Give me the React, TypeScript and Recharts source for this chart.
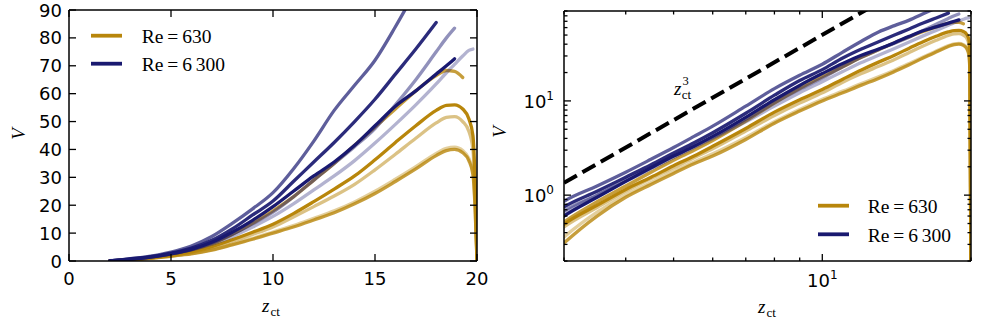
import React from "react";
import { LineChart, Line, XAxis, YAxis, Legend } from "recharts";

// z_ct sample positions shared by every curve
const zValues = [2, 2.5, 3, 3.5, 4, 4.5, 5, 5.5, 6, 7, 8, 9, 10, 11, 12, 13, 14, 15, 16, 17, 18, 18.5, 18.9, 19.3, 19.6, 19.8, 19.9, 20];

// Re = 630 (gold)
const re630a = [0.06, 0.25, 0.52, 0.85, 1.25, 1.75, 2.35, 3.0, 3.8, 6.1, 9.5, 13.5, 18, 23, 29, 35, 41.5, 48, 54.5, 61, 66.5, 68.3, 68, 65.8, null, null, null, null];
const re630b = [0.05, 0.2, 0.49, 0.78, 1.15, 1.55, 2.05, 2.6, 3.3, 5.1, 7.6, 10.3, 13.2, 17, 21.3, 25.8, 30.5, 36.3, 42.5, 48.5, 54, 55.8, 56, 54.5, 51, 45, 30, 0.1];
const re630c = [0.05, 0.2, 0.46, 0.74, 1.1, 1.5, 1.95, 2.5, 3.1, 4.8, 7.0, 9.5, 12.2, 15.8, 19.5, 23.3, 27.5, 32.7, 38.3, 44, 49.5, 51.5, 51.8, 50, 46.5, 40, 25, 0.1];
const re630d = [0.03, 0.12, 0.31, 0.6, 0.95, 1.3, 1.7, 2.15, 2.6, 3.9, 5.8, 7.8, 10, 12.2, 14.7, 17.3, 20.5, 24.2, 28.5, 33, 37.8, 39.6, 40, 38.8, 36, 31, 20, 0.1];
const re630e = [0.04, 0.15, 0.36, 0.66, 1.0, 1.36, 1.78, 2.25, 2.75, 4.1, 6.0, 8.1, 10.4, 12.7, 15.3, 18, 21.2, 25, 29.3, 33.8, 38.6, 40.4, 40.8, 39.6, 36.8, 32, 21, 0.1];

// Re = 6300 (navy)
const re6300a = [0.1, 0.4, 0.86, 1.25, 1.75, 2.4, 3.2, 4.2, 5.4, 8.8, 13.5, 18.7, 24.5, 33, 43, 54, 63, 72, 84, 97, null, null, null, null, null, null, null, null];
const re6300b = [0.08, 0.35, 0.75, 1.1, 1.55, 2.1, 2.8, 3.6, 4.6, 7.4, 11.5, 16.5, 21.5, 28.5, 35.5, 42.5, 50, 58, 67, 76, 85.5, null, null, null, null, null, null, null];
const re6300c = [0.07, 0.3, 0.68, 1.0, 1.45, 1.95, 2.6, 3.3, 4.1, 6.4, 9.6, 13.3, 17.5, 23, 29, 35, 41, 47.5, 56, 65, 75, 80, 83.5, null, null, null, null, null];
const re6300d = [0.07, 0.28, 0.6, 0.95, 1.4, 1.95, 2.6, 3.3, 4.2, 6.7, 10.3, 14.6, 19.5, 25, 30.5, 35.5, 41.5, 48.5, 55.5, 61, 67, 70, 72.5, null, null, null, null, null];
const re6300e = [0.07, 0.3, 0.65, 1.0, 1.4, 1.9, 2.5, 3.2, 4.0, 6.0, 8.8, 12.2, 16, 20.5, 25.5, 30.5, 36, 42.3, 49, 56, 63.5, 67.5, 70.5, 73.5, 75.5, 76, null, null];

// z_ct^3 guide line (two ends)
const guideZ = [3, 12.5];
const guideV = [1.35, 98];

const linXTicks = [0, 5, 10, 15, 20];
const linYTicks = [0, 10, 20, 30, 40, 50, 60, 70, 80, 90];
const logXMajor = [10];
const logXTicks = [3, 4, 5, 6, 7, 8, 9, 10, 20];
const logYMajor = [1, 10];
const logYTicks = [0.2, 0.3, 0.4, 0.5, 0.6, 0.7, 0.8, 0.9, 1, 2, 3, 4, 5, 6, 7, 8, 9, 10, 20, 30, 40, 50, 60, 70, 80, 90];

const legendLabels = ["Re\u2009=\u2009630", "Re\u2009=\u20096\u2009300"];

const GOLD = "#b8860b";
const NAVY = "#191970";
const legendColors = [GOLD, NAVY];

const series = [
  { key: "g1", values: re630a, color: GOLD, opacity: 0.8 },
  { key: "g2", values: re630b, color: GOLD, opacity: 1 },
  { key: "g3", values: re630c, color: GOLD, opacity: 0.5 },
  { key: "g4", values: re630d, color: GOLD, opacity: 0.8 },
  { key: "g5", values: re630e, color: GOLD, opacity: 0.4 },
  { key: "n1", values: re6300a, color: NAVY, opacity: 0.7 },
  { key: "n2", values: re6300b, color: NAVY, opacity: 0.92 },
  { key: "n3", values: re6300c, color: NAVY, opacity: 0.48 },
  { key: "n5", values: re6300e, color: NAVY, opacity: 0.33 },
  { key: "n4", values: re6300d, color: NAVY, opacity: 1 },
];

const rows = zValues.map((z, i) => {
  const row: Record<string, number | null> = { z };
  series.forEach((s) => (row[s.key] = s.values[i]));
  return row;
});
const guideRows = guideZ.map((z, i) => ({ z, guide: guideV[i] }));

const tickFont = { fontFamily: "'DejaVu Sans', sans-serif", fontSize: 18, fill: "#000" };
const serif = "'Liberation Serif', serif";
const frame = { stroke: "#000", strokeWidth: 1.5 };

type Side = "bottom" | "top" | "left" | "right";

// ticks point into the plot (matplotlib classic); labels only on major ticks
function makeTick(side: Side, majors: number[] | null, label?: (v: number) => React.ReactNode, dx = 0, dy = 0) {
  return function TickMark(props: any) {
    const { x, y, payload } = props;
    const v = payload.value as number;
    const major = !majors || majors.includes(v);
    const len = major ? 7 : 3.5;
    let x2 = x;
    let y2 = y;
    if (side === "bottom") y2 = y - len;
    if (side === "top") y2 = y + len;
    if (side === "left") x2 = x + len;
    if (side === "right") x2 = x - len;
    return (
      <g>
        <line x1={x} y1={y} x2={x2} y2={y2} stroke="#000" strokeWidth={1.3} />
        {label && major ? (
          <text x={x + dx} y={y + dy} textAnchor={side === "bottom" ? "middle" : "end"} {...tickFont}>
            {label(v)}
          </text>
        ) : null}
      </g>
    );
  };
}

const powLabel = (v: number) => (
  <>
    <tspan>10</tspan>
    <tspan dy={-8} fontSize={12}>
      {Math.round(Math.log10(v))}
    </tspan>
  </>
);

function LegendBox({ textX, rowGap }: { textX: number; rowGap: number }) {
  return (
    <svg width={180} height={64}>
      {legendLabels.map((lab, i) => (
        <g key={lab}>
          <line x1={6} x2={37} y1={17.7 + i * rowGap} y2={17.7 + i * rowGap} stroke={legendColors[i]} strokeWidth={3.8} />
          <text x={textX} y={25.3 + i * rowGap} fontFamily={serif} fontSize={19.5} fill="#000">
            {lab}
          </text>
        </g>
      ))}
    </svg>
  );
}

function renderLines() {
  return series.map((s) => (
    <Line
      key={s.key}
      xAxisId="b"
      yAxisId="l"
      dataKey={s.key}
      type="monotone"
      stroke={s.color}
      strokeOpacity={s.opacity}
      strokeWidth={3.3}
      dot={false}
      activeDot={false}
      connectNulls={false}
      isAnimationActive={false}
      strokeLinecap="round"
    />
  ));
}

function LinearPanel() {
  return (
    <LineChart width={490} height={325} data={rows} margin={{ top: 9, right: 12, bottom: 0, left: 0 }}>
      <XAxis xAxisId="b" dataKey="z" type="number" domain={[0, 20]} allowDataOverflow ticks={linXTicks} interval={0}
        height={64} tickSize={0} tickMargin={0} tickLine={false} axisLine={frame} tick={makeTick("bottom", null, String, 0, 24)} />
      <XAxis xAxisId="t" orientation="top" dataKey="z" type="number" domain={[0, 20]} allowDataOverflow ticks={linXTicks} interval={0}
        height={1} tickSize={0} tickMargin={0} tickLine={false} axisLine={frame} tick={makeTick("top", null)} />
      <YAxis yAxisId="l" type="number" domain={[0, 90]} allowDataOverflow ticks={linYTicks} interval={0}
        width={69} tickSize={0} tickMargin={0} tickLine={false} axisLine={frame} tick={makeTick("left", null, String, -7, 6.5)} />
      <YAxis yAxisId="r" orientation="right" type="number" domain={[0, 90]} allowDataOverflow ticks={linYTicks} interval={0}
        width={1} tickSize={0} tickMargin={0} tickLine={false} axisLine={frame} tick={makeTick("right", null)} />
      {renderLines()}
      <Legend layout="horizontal" verticalAlign="middle" align="center"
        wrapperStyle={{ left: 85, top: 18, width: 180, height: 64 }}
        content={() => <LegendBox textX={56.7} rowGap={28} />} />
    </LineChart>
  );
}

function LogPanel() {
  return (
    <LineChart width={493} height={325} data={rows} margin={{ top: 10, right: 11, bottom: 0, left: 0 }}>
      <XAxis xAxisId="b" dataKey="z" type="number" scale="log" domain={[3, 20]} allowDataOverflow ticks={logXTicks} interval={0}
        height={64} tickSize={0} tickMargin={0} tickLine={false} axisLine={frame} tick={makeTick("bottom", logXMajor, powLabel, 0, 26)} />
      <XAxis xAxisId="t" orientation="top" dataKey="z" type="number" scale="log" domain={[3, 20]} allowDataOverflow ticks={logXTicks} interval={0}
        height={1} tickSize={0} tickMargin={0} tickLine={false} axisLine={frame} tick={makeTick("top", logXMajor)} />
      <YAxis yAxisId="l" type="number" scale="log" domain={[0.2, 90]} allowDataOverflow ticks={logYTicks} interval={0}
        width={74} tickSize={0} tickMargin={0} tickLine={false} axisLine={frame} tick={makeTick("left", logYMajor, powLabel, -10, 7.3)} />
      <YAxis yAxisId="r" orientation="right" type="number" scale="log" domain={[0.2, 90]} allowDataOverflow ticks={logYTicks} interval={0}
        width={1} tickSize={0} tickMargin={0} tickLine={false} axisLine={frame} tick={makeTick("right", logYMajor)} />
      {renderLines()}
      <Line xAxisId="b" yAxisId="l" data={guideRows} dataKey="guide" type="linear" stroke="#000" strokeWidth={4}
        strokeDasharray="14.8 6.4" dot={false} activeDot={false} isAnimationActive={false} />
      <Legend layout="horizontal" verticalAlign="middle" align="center"
        wrapperStyle={{ left: 322, top: 188, width: 180, height: 64 }}
        content={() => <LegendBox textX={55.7} rowGap={28.6} />} />
    </LineChart>
  );
}

function ZLabel({ x, y, exp }: { x: number; y: number; exp?: string }) {
  return (
    <text x={x} y={y} fontFamily={serif} fill="#000" fontSize={19}>
      <tspan fontStyle="italic">z</tspan>
      {exp ? (
        <>
          <tspan dx={1} dy={-10.5} fontSize={12.5}>{exp}</tspan>
          <tspan dx={-7} dy={14.5} fontSize={13}>ct</tspan>
        </>
      ) : (
        <tspan dx={1} dy={4} fontSize={13}>ct</tspan>
      )}
    </text>
  );
}

export default function App() {
  return (
    <div style={{ position: "absolute", left: 0, top: 0, width: 983, height: 325, background: "#fff" }}>
      <div style={{ position: "absolute", left: 0, top: 0 }}>
        <LinearPanel />
      </div>
      <div style={{ position: "absolute", left: 490, top: 0 }}>
        <LogPanel />
      </div>
      <svg width={983} height={325} style={{ position: "absolute", left: 0, top: 0, pointerEvents: "none" }}>
        <text transform="translate(25,134) rotate(-90)" textAnchor="middle" fontFamily={serif} fontSize={19} fontStyle="italic">V</text>
        <text transform="translate(506,132) rotate(-90)" textAnchor="middle" fontFamily={serif} fontSize={19} fontStyle="italic">V</text>
        <ZLabel x={262} y={312} />
        <ZLabel x={758} y={313} />
        <ZLabel x={674} y={95} exp="3" />
      </svg>
    </div>
  );
}
